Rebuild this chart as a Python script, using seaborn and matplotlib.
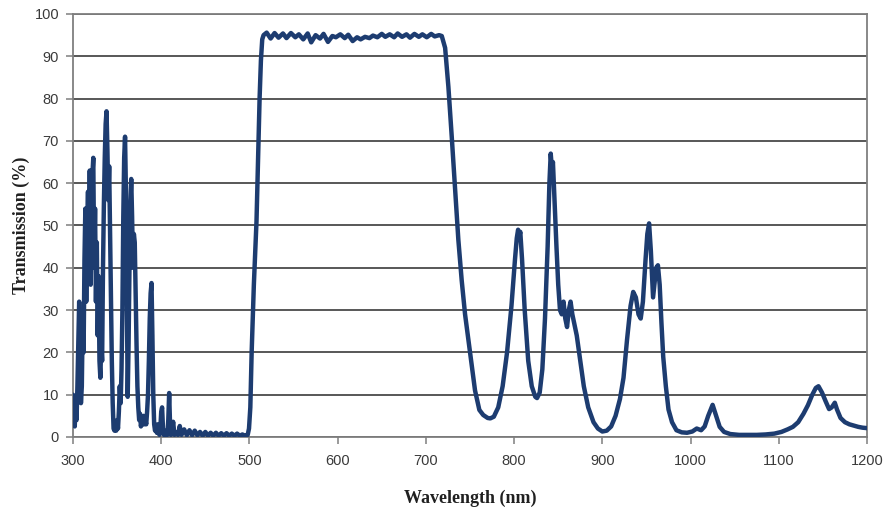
import numpy as np
import pandas as pd
import matplotlib
matplotlib.use("Agg")
import matplotlib.pyplot as plt
import seaborn as sns

# ---- data ----
uv_wl = [300, 301, 302, 303, 304, 305, 306, 307, 308, 309, 310, 311, 312, 313, 314, 315, 316, 317, 318, 319,
         320, 321, 322, 323, 324, 325, 326, 327, 328, 329, 330, 331, 332, 333, 334, 335, 336, 337, 338, 339,
         340, 341, 342, 343, 344, 345, 346, 347, 348, 349, 350, 351, 352, 353, 354, 355, 356, 357, 358, 359,
         360, 361, 362, 363, 364, 365, 366, 367, 368, 369, 370, 371, 372, 373, 374, 375, 376, 377, 378, 379,
         380, 381, 382, 383, 384, 385, 386, 387, 388, 389, 390, 391, 392, 393, 394, 395, 396, 397, 398, 399,
         400, 401, 402, 403, 404, 405, 406, 407, 408, 409, 410, 411, 412, 413.5, 415, 417, 419, 421, 423, 426,
         429, 432, 435, 438, 441, 444, 447, 450, 453, 456, 459, 462, 465, 468, 471, 474, 477, 480, 483, 486,
         489, 492, 495, 497]
uv_t = [10, 4, 2.5, 9, 4, 12, 22, 32, 20, 8, 12, 28, 20, 42, 54, 32, 48, 58, 38, 63,
        36, 52, 62, 66, 40, 54, 32, 46, 24, 38, 18, 14, 22, 18, 40, 55, 66, 74, 77, 68,
        56, 64, 48, 30, 18, 8, 2, 1.5, 3, 1.5, 4, 2, 6, 12, 8, 16, 30, 52, 66, 71,
        58, 35, 9.5, 22, 40, 55, 61, 52, 40, 48, 46, 34, 22, 12, 7, 4, 5.5, 2.5, 4, 3,
        5, 3, 4, 3, 6, 10, 18, 28, 34, 36.4, 24, 10, 3, 1.5, 2.5, 1, 3, 1, 0.5, 2,
        6, 7, 2, 0.5, 1, 0.5, 1.5, 0.5, 4, 10.4, 3, 0.5, 1, 3.6, 0.5, 1, 0.5, 2.6, 0.5, 1.8,
        0.4, 1.6, 0.4, 1.5, 0.4, 1.2, 0.3, 1.2, 0.3, 1.0, 0.3, 1.0, 0.3, 0.9, 0.3, 0.9, 0.3, 0.8, 0.3, 0.8,
        0.3, 0.6, 0.3, 0.4]

edge_wl = [498, 499.5, 501, 502.5, 505, 508, 510, 511.5, 513, 514.5]
edge_t = [0.5, 2, 7, 20, 36, 51, 68, 80, 89, 94]

pass_wl = [516, 519.5, 524, 528.5, 533, 538, 542, 547, 552, 556, 561, 566, 570, 575, 580, 584, 589, 594, 598, 603,
           608, 612, 617, 622, 626, 631, 636, 640, 645, 650, 654, 659, 664, 668, 673, 678, 682, 687, 692, 696,
           701, 706, 710, 715, 718]
pass_t = [95, 95.6, 94.2, 95.5, 94.4, 95.4, 94.3, 95.5, 94.5, 95.2, 94.0, 95.4, 93.3, 95.0, 94.2, 95.3, 93.4, 94.8, 94.5, 95.2,
          94.3, 95.1, 93.6, 94.5, 94.0, 94.6, 94.3, 94.9, 94.5, 95.3, 94.6, 95.2, 94.5, 95.4, 94.6, 95.2, 94.4, 95.3, 94.6, 95.2,
          94.5, 95.3, 94.7, 95.0, 94.8]

nir_wl = [721.8, 725.5, 729.3, 733, 736.8, 740.6, 744.4, 750, 755.7, 760.6, 765, 770, 773, 777, 782, 787, 792, 797, 801, 803,
          804.5, 806, 807, 809, 812, 816, 820, 824, 826, 829, 832, 835, 838, 840, 841.5, 843, 844, 846, 848, 850,
          852, 854, 856, 858, 860, 862, 864, 866, 868, 871, 875, 879, 884, 890, 895, 900, 905, 910, 915, 920,
          924, 928, 932, 935, 938, 941, 943.5, 946, 949, 951, 953, 955, 957.5, 959, 961, 963, 965, 967, 969, 972,
          975, 979, 984, 990, 996, 1002, 1007, 1012, 1016, 1020, 1025, 1029, 1033, 1038, 1045, 1055, 1065, 1075, 1085, 1095,
          1103, 1110, 1116, 1122, 1128, 1133, 1138, 1142, 1145, 1149, 1153, 1157, 1160, 1163.5, 1166, 1170, 1175, 1180, 1185, 1190,
          1195, 1200]
nir_t = [92, 82.8, 71, 59, 46.6, 37, 29, 20, 11, 6.4, 5.2, 4.5, 4.4, 4.8, 7, 12, 20, 31, 42, 47,
         49, 47.5, 48.5, 42, 30, 18, 12, 9.5, 9.2, 10.5, 16, 28, 45, 60, 67, 63, 65, 55, 45, 36,
         30, 29, 32, 28, 26, 30, 32, 29, 27, 24, 18, 12, 7, 3.5, 2, 1.3, 1.5, 2.5, 5, 9,
         14, 23, 31, 34.3, 33, 29, 28, 32, 42, 48, 50.5, 44, 33, 36, 40, 40.6, 36, 27, 19, 12,
         6.5, 3.5, 1.6, 1.1, 1, 1.3, 2, 1.6, 2.5, 5, 7.6, 5, 2.4, 1.2, 0.7, 0.5, 0.5, 0.5, 0.6, 0.8,
         1.2, 1.8, 2.4, 3.5, 5.5, 7.5, 10, 11.6, 12, 10.5, 8.5, 6.6, 7, 8.1, 6.5, 4.5, 3.5, 3, 2.7, 2.4,
         2.2, 2.1]

x_ticks = [300, 400, 500, 600, 700, 800, 900, 1000, 1100, 1200]
y_ticks = [0, 10, 20, 30, 40, 50, 60, 70, 80, 90, 100]

df = pd.DataFrame({
    "Wavelength": uv_wl + edge_wl + pass_wl + nir_wl,
    "Transmission": uv_t + edge_t + pass_t + nir_t,
})

sns.set_style("white")
plt.rcParams['font.family'] = ['Liberation Sans', 'DejaVu Sans']

fig = plt.figure(figsize=(8.88, 5.19), dpi=100)
ax = fig.add_axes([73 / 888, 82 / 519, 794 / 888, 423 / 519])

sns.lineplot(data=df, x="Wavelength", y="Transmission", sort=False, estimator=None,
             color="#1d3c70", linewidth=3.2, ax=ax, zorder=3)

ax.set_xlim(300, 1200)
ax.set_ylim(0, 100)
ax.set_xticks(x_ticks)
ax.set_yticks(y_ticks)
ax.yaxis.grid(True, color="#4a4a4a", linewidth=1.3)
ax.xaxis.grid(False)
ax.set_axisbelow(True)

for s in ["left", "bottom", "right", "top"]:
    ax.spines[s].set_color("#7f7f7f")
    ax.spines[s].set_linewidth(1.3)

ax.tick_params(axis="both", direction="out", length=5, width=1.1, color="#7f7f7f",
               labelsize=10.5, labelcolor="#3a3a3a", left=True, bottom=True)
ax.tick_params(axis="x", pad=7)
ax.tick_params(axis="y", pad=5)

ax.set_xlabel("Wavelength (nm)", fontfamily="Liberation Serif", fontweight="bold",
              fontsize=13, color="#202020", labelpad=16)
ax.set_ylabel("Transmission (%)", fontfamily="Liberation Serif", fontweight="bold",
              fontsize=13, color="#202020", labelpad=3)

fig.savefig("out.png", dpi=100, facecolor="white")
